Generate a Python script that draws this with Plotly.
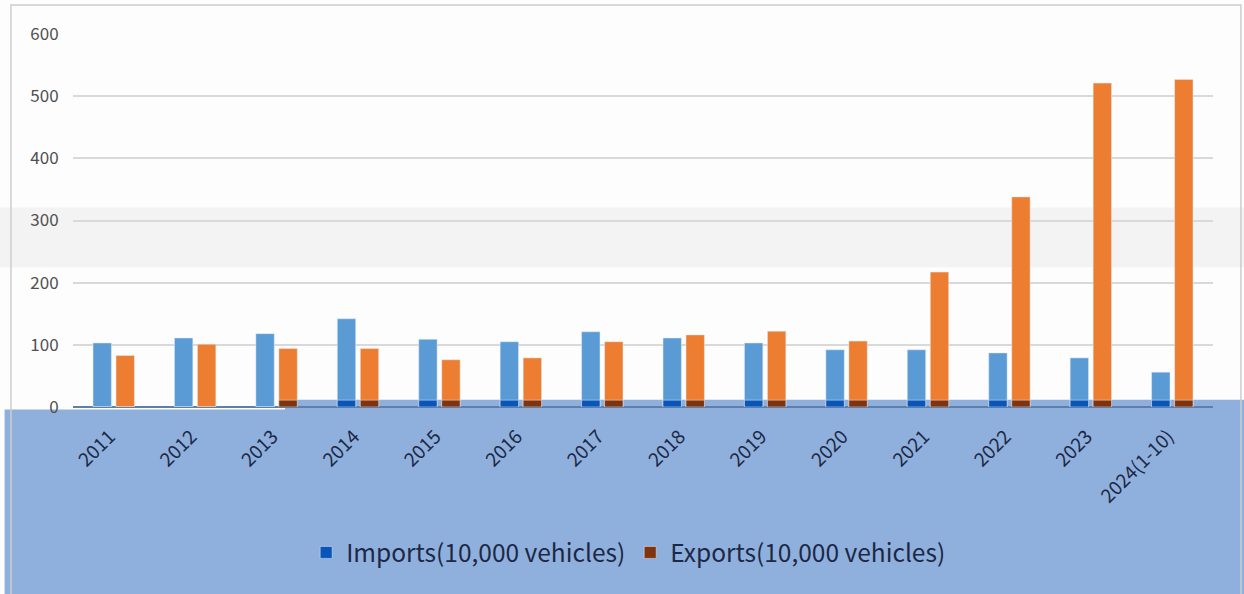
import plotly.graph_objects as go

categories = ["2011", "2012", "2013", "2014", "2015", "2016", "2017", "2018",
              "2019", "2020", "2021", "2022", "2023", "2024(1-10)"]
imports = [103, 111, 118, 142, 109, 105, 121, 111, 103, 92, 92, 87, 79, 56]
exports = [83, 101, 94, 94, 76, 79, 105, 116, 122, 106, 217, 338, 521, 527]
imports_name = "Imports(10,000 vehicles)"
exports_name = "Exports(10,000 vehicles)"

OVERLAY_TOP = 11  # value level where the blue band starts
FONT = "Noto Sans CJK SC, Noto Sans, sans-serif"

dark_imports = [min(v, OVERLAY_TOP) if i >= 3 else 0 for i, v in enumerate(imports)]
dark_exports = [min(v, OVERLAY_TOP) if i >= 2 else 0 for i, v in enumerate(exports)]

fig = go.Figure()
fig.add_trace(go.Bar(x=categories, y=imports, name=imports_name, marker_color="#5b9bd5",
                     offsetgroup="imp", showlegend=False))
fig.add_trace(go.Bar(x=categories, y=exports, name=exports_name, marker_color="#ed7d31",
                     offsetgroup="exp", showlegend=False))
fig.add_trace(go.Bar(x=categories, y=dark_imports, name=imports_name,
                     marker_color="#0a55b8", offsetgroup="imp"))
fig.add_trace(go.Bar(x=categories, y=dark_exports, name=exports_name,
                     marker_color="#7f3410", offsetgroup="exp"))

fig.update_layout(
    width=1244, height=594,
    margin=dict(l=73, r=31, t=34, b=187),
    paper_bgcolor="#fdfdfd", plot_bgcolor="rgba(0,0,0,0)",
    barmode="group", bargap=0.435, bargroupgap=0.2,
    font=dict(family=FONT),
    legend=dict(orientation="h", x=0.487, xanchor="center", y=-0.39, yanchor="middle",
                font=dict(size=24.5, color="#1c2846", family=FONT), bgcolor="rgba(0,0,0,0)",
                traceorder="normal", itemwidth=30),
    xaxis=dict(tickangle=-45, tickfont=dict(size=19, color="#1c2846", family=FONT),
               showgrid=False, showline=False, ticks="outside", ticklen=10,
               tickcolor="rgba(0,0,0,0)", ticklabelshift=-4),
    yaxis=dict(range=[0, 600], tickvals=[0, 100, 200, 300, 400, 500, 600],
               tickfont=dict(size=17, color="#505050", family=FONT), gridcolor="#d9d9d9",
               gridwidth=1.5, zeroline=True, zerolinecolor="#5f7fa8", zerolinewidth=2,
               ticks="outside", ticklen=10, tickcolor="rgba(0,0,0,0)"),
    shapes=[
        dict(type="rect", xref="paper", yref="paper", x0=-0.1, x1=1.05, y0=0.375, y1=0.535,
             fillcolor="#eeeeee", line_width=0, layer="below", opacity=0.7),
        dict(type="rect", xref="paper", yref="paper", x0=-0.06, x1=0.19, y0=-0.51, y1=-0.007,
             fillcolor="#8fb0dc", line_width=0, layer="below"),
        dict(type="rect", xref="paper", yref="paper", x0=0.186, x1=1.05, y0=-0.51, y1=0.0196,
             fillcolor="#8fb0dc", line_width=0, layer="below"),
        dict(type="rect", xref="paper", yref="paper", x0=-0.0544, x1=1.0245, y0=-0.6, y1=1.0777,
             line=dict(color="#cdcdcd", width=1.5), fillcolor="rgba(0,0,0,0)", layer="below"),
    ],
)

fig.write_html("out.html", config={"displayModeBar": False},
               post_script="document.body.style.margin='0';document.body.style.overflow='hidden';")
